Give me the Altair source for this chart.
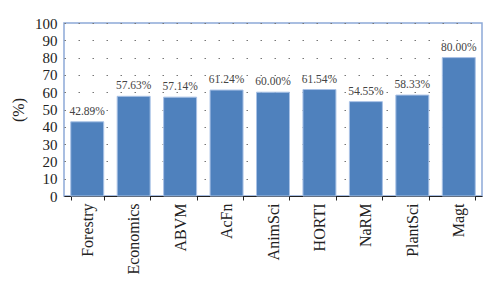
import altair as alt
import pandas as pd

categories = ["Forestry", "Economics", "ABVM", "AcFn", "AnimSci", "HORTI", "NaRM", "PlantSci", "Magt"]
values = [42.89, 57.63, 57.14, 61.24, 60.00, 61.54, 54.55, 58.33, 80.00]
y_ticks = [0, 10, 20, 30, 40, 50, 60, 70, 80, 90, 100]

df = pd.DataFrame({"cat": categories, "val": values})

FONT = "Liberation Serif"

x = alt.X("cat:N", sort=categories, title=None,
          scale=alt.Scale(paddingInner=0.29, paddingOuter=0.145),
          axis=alt.Axis(labelAngle=-90, labelFontSize=16, labelFont=FONT, labelColor="#222222",
                        domainColor="#222222", tickColor="#222222", tickBand="extent", tickSize=4,
                        labelPadding=3, grid=False, labelOverlap=False))
y = alt.Y("val:Q", title="(%)",
          scale=alt.Scale(domain=[0, 100], nice=False),
          axis=alt.Axis(values=y_ticks, tickCount=11, labelFontSize=15, labelFont=FONT,
                        labelColor="#222222", domain=False, ticks=False, labelPadding=7,
                        labelOverlap=False, labelBound=False,
                        gridColor="#777777", gridDash=[1.5, 12.5], gridWidth=1.2,
                        titleFont=FONT, titleFontSize=16, titleFontWeight="normal",
                        titleColor="#222222", titlePadding=8))

base = alt.Chart(df).encode(x=x, y=y)

bars = base.mark_bar(color="#4F81BD", stroke="#A9C2E6", strokeWidth=1)

text = base.transform_calculate(
    lab="format(datum.val, '.2f') + '%'"
).mark_text(dy=-10, font=FONT, fontSize=11.5, color="#444444").encode(text="lab:N")

chart = (bars + text).properties(
    width=418, height=173,
    autosize=alt.AutoSizeParams(type="none"),
    padding={"left": 64, "top": 23, "right": 18, "bottom": 87},
).configure_view(stroke="#8DA9D8", strokeWidth=1.5)

chart.save("out.html", embed_options={"renderer": "svg", "actions": False})
